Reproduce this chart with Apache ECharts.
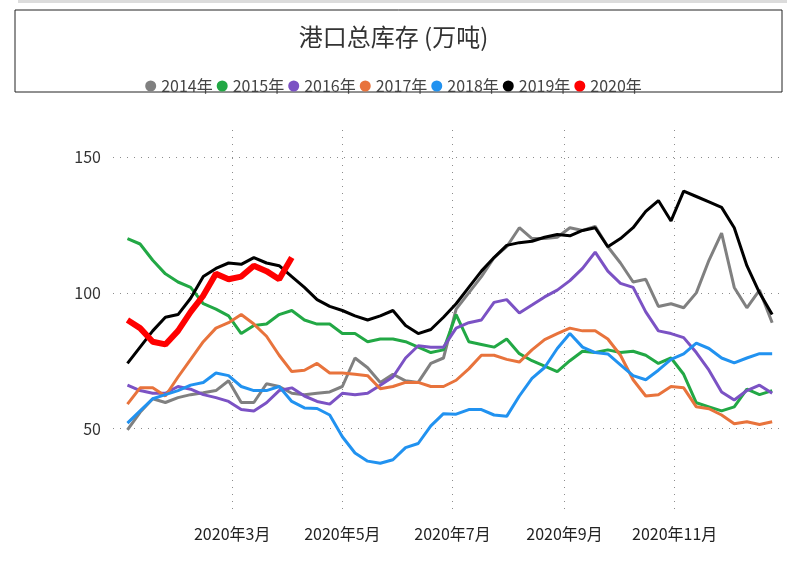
<!DOCTYPE html>
<html>

	<head>
		<meta charset="utf-8">
		<title>港口总库存</title>
		<script src="https://cdn.jsdelivr.net/npm/echarts@6/dist/echarts.min.js"></script>
		<style>
			html, body { margin: 0; padding: 0; background: #fff; }
		</style>
	</head>

	<body>
		<div id="res" style="width: 787px;height: 563px;"></div>
		<script>
			// 每周日期 (按2020年对齐)
			var weeks = ['2020-01-03', '2020-01-10', '2020-01-17', '2020-01-24', '2020-01-31',
				'2020-02-07', '2020-02-14', '2020-02-21', '2020-02-28',
				'2020-03-06', '2020-03-13', '2020-03-20', '2020-03-27',
				'2020-04-03', '2020-04-10', '2020-04-17', '2020-04-24',
				'2020-05-01', '2020-05-08', '2020-05-15', '2020-05-22', '2020-05-29',
				'2020-06-05', '2020-06-12', '2020-06-19', '2020-06-26',
				'2020-07-03', '2020-07-10', '2020-07-17', '2020-07-24', '2020-07-31',
				'2020-08-07', '2020-08-14', '2020-08-21', '2020-08-28',
				'2020-09-04', '2020-09-11', '2020-09-18', '2020-09-25',
				'2020-10-02', '2020-10-09', '2020-10-16', '2020-10-23', '2020-10-30',
				'2020-11-06', '2020-11-13', '2020-11-20', '2020-11-27',
				'2020-12-04', '2020-12-11', '2020-12-18', '2020-12-25'];

			var monthTicks = ['2020-03-01', '2020-05-01', '2020-07-01', '2020-09-01', '2020-11-01'];
			var yTicks = [50, 100, 150];

			var names = ['2014年', '2015年', '2016年', '2017年', '2018年', '2019年', '2020年'];
			var colors = ['#808080', '#22a845', '#7b52c4', '#e8733c', '#2192f0', '#000000', '#ff0000'];

			var d2014 = [49.5, 56, 61, 59.6, 61.4, 62.5, 63.2, 64, 67.6, 59.6, 59.6, 66.5, 65.5, 63, 62.5, 63, 63.5,
				65.5, 76, 72.4, 67, 70, 67.6, 67, 74, 76, 94, 100, 106, 113, 117, 124, 120, 120, 120.5,
				124, 123, 124.5, 117, 111, 104, 105, 95, 96, 94.5, 100, 112, 122, 102, 94.5, 101, 89];
			var d2015 = [120, 118, 112, 107, 104, 102, 96, 94, 91.5, 85, 88, 88.5, 92, 93.5, 90, 88.5, 88.5,
				85, 85, 82, 83, 83, 82, 80, 78, 79, 92, 82, 81, 80, 83, 77.6, 75, 73, 71,
				75, 78.5, 78, 79, 78, 78.5, 77, 74, 76, 70, 59.5, 58, 56.5, 58, 64.5, 62.5, 64];
			var d2016 = [66, 64, 63, 63, 65.5, 64.5, 62.5, 61.4, 60, 57, 56.5, 59.5, 64, 65, 62, 60, 59,
				63, 62.5, 63, 66, 69, 76, 80.5, 80, 80, 87, 89, 90, 96.5, 97.5, 92.6, 95.5, 98.5, 101,
				104.5, 109, 115, 108, 103.5, 102, 93, 86, 85, 83.5, 78, 71.5, 63.5, 60.5, 64, 66, 63];
			var d2017 = [59, 65, 65, 62, 69, 75.5, 82, 87, 89, 92, 88.5, 84, 77, 71, 71.5, 74, 70.5,
				70.5, 70, 69.5, 64.7, 65.5, 67, 67, 65.5, 65.5, 67.8, 72, 77, 77, 75.5, 74.5, 79, 82.8, 85,
				87, 86, 86, 83, 77, 68, 62, 62.5, 65.5, 65, 58, 57.3, 55, 51.8, 52.5, 51.5, 52.5];
			var d2018 = [52, 56.5, 61, 62.5, 64, 66, 67, 70.5, 69.5, 65.5, 64, 64, 65.5, 60, 57.6, 57.4, 55,
				47, 41, 38, 37.2, 38.5, 43, 44.5, 51, 55.5, 55.3, 57, 57, 55, 54.5, 62, 68.5, 72.5, 79.5,
				85, 80, 78, 77.5, 73.5, 69.5, 68, 71.5, 75.5, 77.5, 81.5, 79.5, 76, 74.2, 76, 77.6, 77.6];
			var d2019 = [74, 80, 86, 91, 92, 98, 106, 109, 111, 110.5, 113, 111, 110, 106, 102, 97.5, 95,
				93.5, 91.5, 90, 91.5, 93.5, 88, 85, 86.5, 91, 96, 102, 108, 113, 117.5, 118.5, 119, 120.5, 121.5,
				121, 123, 124, 117, 120, 124, 130, 134, 126.5, 137.5, 135.5, 133.5, 131.5, 124, 110, 100, 92];
			var d2020 = [90, 87, 82, 81, 86, 93, 99, 107, 105, 106, 110, 108, 105, 113];

			var allData = [d2014, d2015, d2016, d2017, d2018, d2019, d2020];

			var monthValues = [];
			for(var k = 0; k < monthTicks.length; k++) {
				monthValues.push(Date.parse(monthTicks[k]));
			}

			var series = [];
			for(var i = 0; i < names.length; i++) {
				var pts = [];
				for(var j = 0; j < allData[i].length; j++) {
					pts.push([Date.parse(weeks[j]), allData[i][j]]);
				}
				series.push({
					name: names[i],
					type: 'line',
					data: pts,
					symbol: 'none',
					smooth: false,
					lineStyle: {
						color: colors[i],
						width: names[i] == '2020年' ? 6 : 3
					},
					itemStyle: {
						color: colors[i]
					}
				});
			}

			var myChart = echarts.init(document.getElementById('res'));
			var option = {
				animation: false,
				textStyle: {
					fontFamily: '"Noto Sans CJK SC", "Noto Sans", sans-serif'
				},
				title: {
					text: '港口总库存 (万吨)',
					left: 'center',
					top: 20,
					textStyle: {
						fontSize: 24,
						fontWeight: 'normal',
						color: '#333'
					}
				},
				legend: {
					data: names,
					top: 73,
					left: 'center',
					icon: 'circle',
					itemWidth: 11,
					itemHeight: 11,
					itemGap: 4,
					textStyle: {
						fontSize: 16,
						color: '#444'
					}
				},
				graphic: [{
					type: 'rect',
					shape: { x: 15, y: 10, width: 767, height: 82 },
					style: { fill: 'none', stroke: '#222', lineWidth: 1 },
					silent: true
				}, {
					type: 'rect',
					shape: { x: 18, y: 0, width: 769, height: 3 },
					style: { fill: '#dcdcdc' },
					silent: true
				}],
				grid: {
					left: 113,
					right: 4,
					top: 130,
					bottom: 53
				},
				xAxis: {
					type: 'value',
					min: Date.parse('2019-12-26'),
					max: Date.parse('2020-12-31'),
					axisLine: { show: false },
					axisTick: { show: false, customValues: monthValues },
					axisLabel: {
						customValues: monthValues,
						margin: 16,
						fontSize: 16,
						color: '#222',
						formatter: function(v) {
							var d = new Date(v);
							return d.getUTCFullYear() + '年' + (d.getUTCMonth() + 1) + '月';
						}
					},
					splitLine: {
						show: true,
						lineStyle: { color: '#8c8c8c', type: [1, 6], width: 1 }
					}
				},
				yAxis: {
					type: 'value',
					min: 20,
					max: 160,
					axisLine: { show: false },
					axisTick: { show: false, customValues: yTicks },
					axisLabel: {
						customValues: yTicks,
						fontSize: 16,
						color: '#333',
						margin: 12
					},
					splitLine: {
						show: true,
						lineStyle: { color: '#8c8c8c', type: [1, 6], width: 1 }
					}
				},
				series: series
			};
			myChart.setOption(option);
		</script>
	</body>

</html>
